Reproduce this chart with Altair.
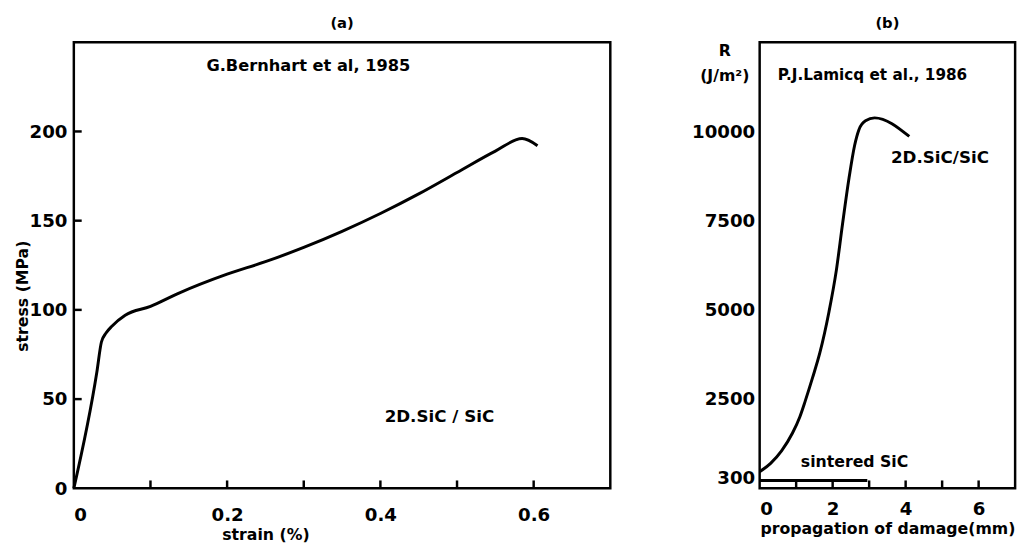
import altair as alt
import pandas as pd

FONT = "DejaVu Sans"

# ---- panel (a) data ----
strain = [0.0, 0.030, 0.036, 0.042, 0.050, 0.067, 0.10, 0.135, 0.20, 0.25, 0.30, 0.35, 0.40, 0.45, 0.50, 0.55, 0.585, 0.605]
stress = [0.0, 65.0, 82.0, 87.0, 91.0, 97.0, 102.0, 109.0, 120.0, 127.0, 135.0, 144.0, 154.0, 165.0, 177.0, 189.0, 196.0, 192.0]
a_xticks = [0.1, 0.2, 0.3, 0.4, 0.5, 0.6]
a_yticks = [50, 100, 150, 200]
a_xlabels = [0, 0.2, 0.4, 0.6]
a_ylabels = [0, 50, 100, 150, 200]
a_notes_text = ["G.Bernhart et al, 1985", "2D.SiC / SiC"]
a_notes_x = [0.306, 0.477]
a_notes_y = [236.7, 40.0]
a_notes_size = [16.5, 17]

# ---- panel (b) data ----
prop = [0.0, 0.3, 0.6, 0.9, 1.1, 1.25, 1.45, 1.65, 1.9, 2.1, 2.27, 2.45, 2.6, 2.72, 2.9, 3.15, 4.1]
R_2d = [466, 700, 1050, 1550, 2000, 2450, 3100, 3800, 4950, 6100, 7400, 8700, 9600, 10050, 10300, 10380, 9860]
sint_x = [0.0, 2.95]
sint_R = [220, 220]
b_xticks = [1, 2, 3, 4, 5, 6]
b_xlabels = [0, 2, 4, 6]
b_ylabels = [300, 2500, 5000, 7500, 10000]
b_notes_text = ["P.J.Lamicq et al., 1986", "2D.SiC/SiC", "sintered SiC"]
b_notes_x = [3.09, 4.94, 2.6]
b_notes_y = [11590, 9260, 740]
b_notes_size = [15.5, 17, 16]

W_A, W_B, H = 546, 260, 454
TICK = 8

df_a = pd.DataFrame({"strain": strain, "stress": stress})
df_axt = pd.DataFrame({"t": a_xticks})
df_ayt = pd.DataFrame({"t": a_yticks})
df_an = pd.DataFrame({"txt": a_notes_text, "x": a_notes_x, "y": a_notes_y, "s": a_notes_size})

xa = alt.Scale(domain=[0, 0.7], nice=False, zero=False)
ya = alt.Scale(domain=[0, 250], nice=False)

axis_common = dict(domain=False, ticks=False, tickSize=0, grid=False,
                   labelFont=FONT, labelFontSize=18.5, labelFontWeight="bold", labelColor="black",
                   titleFont=FONT, titleFontSize=16, titleFontWeight="bold", titleColor="black")

a_line = alt.Chart(df_a).mark_line(color="black", strokeWidth=3, interpolate="monotone").encode(
    x=alt.X("strain:Q", scale=xa,
            axis=alt.Axis(values=a_xlabels, format="~g", title="strain (%)", labelPadding=18,
                          titlePadding=3, titleX=195, **axis_common)),
    y=alt.Y("stress:Q", scale=ya,
            axis=alt.Axis(values=a_ylabels, format="d", title="stress (MPa)", labelPadding=7,
                          titleX=-52, titleY=258, titleBaseline="middle", titleAlign="center",
                          **axis_common)),
)
a_xt = alt.Chart(df_axt).mark_rule(color="black", strokeWidth=2.5).encode(
    x=alt.X("t:Q", scale=xa), y=alt.value(H), y2=alt.value(H - TICK))
a_yt = alt.Chart(df_ayt).mark_rule(color="black", strokeWidth=2.5).encode(
    y=alt.Y("t:Q", scale=ya), x=alt.value(0), x2=alt.value(TICK))
a_txt = alt.Chart(df_an).mark_text(font=FONT, fontWeight="bold", color="black").encode(
    x=alt.X("x:Q", scale=xa), y=alt.Y("y:Q", scale=ya), text="txt:N",
    size=alt.Size("s:Q", scale=None, legend=None))

panel_a = alt.layer(a_line, a_xt, a_yt, a_txt).properties(
    width=W_A, height=H,
    title=alt.TitleParams("(a)", font=FONT, fontSize=15, fontWeight="bold", color="black", offset=11))

# ---- panel (b) ----
df_b = pd.DataFrame({"p": prop, "R": R_2d})
df_s = pd.DataFrame({"p": sint_x, "R": sint_R})
df_bxt = pd.DataFrame({"t": b_xticks})
df_bn = pd.DataFrame({"txt": b_notes_text, "x": b_notes_x, "y": b_notes_y, "s": b_notes_size})

xb = alt.Scale(domain=[0, 7], nice=False, zero=False)
yb = alt.Scale(domain=[0, 12500], nice=False)

b_line = alt.Chart(df_b).mark_line(color="black", strokeWidth=3, interpolate="monotone").encode(
    x=alt.X("p:Q", scale=xb,
            axis=alt.Axis(values=b_xlabels, format="d", title="propagation of damage(mm)",
                          labelPadding=12, titlePadding=2, **axis_common)),
    y=alt.Y("R:Q", scale=yb,
            axis=alt.Axis(values=b_ylabels, format="d", title=["R", "(J/m²)"], labelPadding=5,
                          titleAngle=0, titleX=-36, titleY=0, titleAlign="center",
                          titleBaseline="top", titleLineHeight=26, **axis_common)),
)
b_sint = alt.Chart(df_s).mark_line(color="black", strokeWidth=3).encode(
    x=alt.X("p:Q", scale=xb), y=alt.Y("R:Q", scale=yb))
b_xt = alt.Chart(df_bxt).mark_rule(color="black", strokeWidth=2.5).encode(
    x=alt.X("t:Q", scale=xb), y=alt.value(H), y2=alt.value(H - TICK))
b_txt = alt.Chart(df_bn).mark_text(font=FONT, fontWeight="bold", color="black").encode(
    x=alt.X("x:Q", scale=xb), y=alt.Y("y:Q", scale=yb), text="txt:N",
    size=alt.Size("s:Q", scale=None, legend=None))

panel_b = alt.layer(b_line, b_sint, b_xt, b_txt).properties(
    width=W_B, height=H,
    title=alt.TitleParams("(b)", font=FONT, fontSize=15, fontWeight="bold", color="black", offset=11))

chart = alt.hconcat(panel_a, panel_b, spacing=79).properties(
    background="white",
    padding={"left": 5, "top": 2, "right": 5, "bottom": 5}
).configure_view(stroke="black", strokeWidth=2.5)

chart.save("out.html", embed_options={"renderer": "svg", "actions": False})
